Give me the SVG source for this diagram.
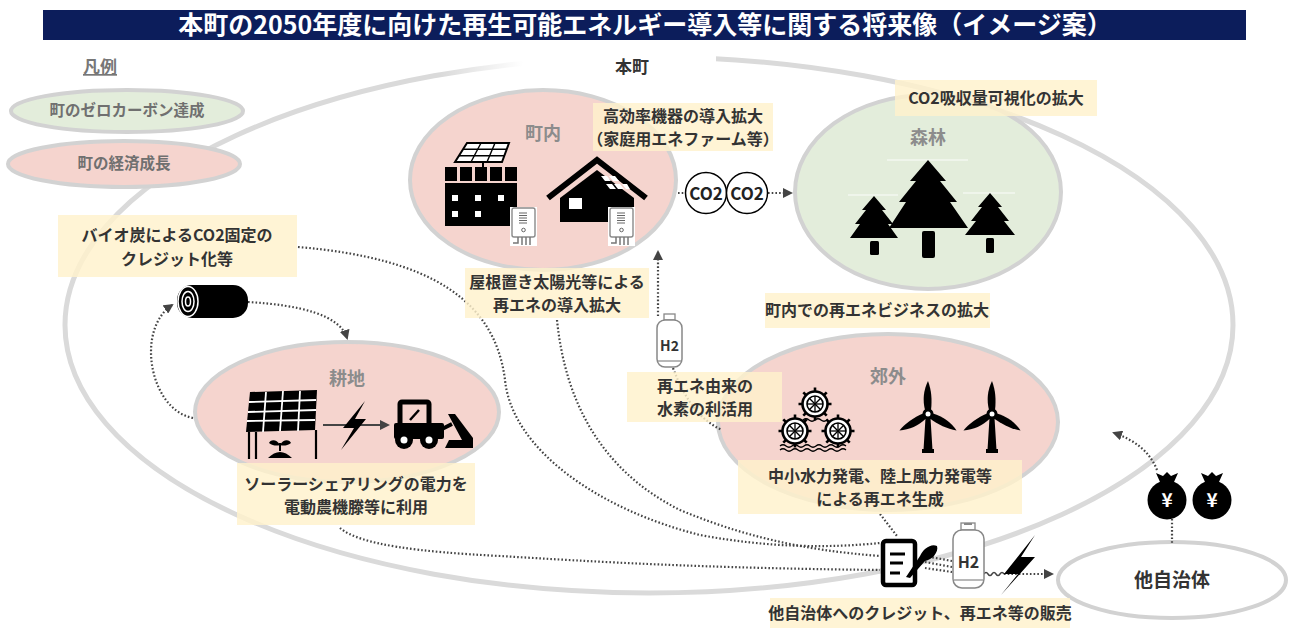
<svg xmlns="http://www.w3.org/2000/svg" width="1290" height="628" viewBox="0 0 1290 628">
<style>
  text { font-family: "Noto Sans CJK JP", "Noto Sans", sans-serif; font-weight: 700; }
  .title { fill: #fff; font-size: 25px; }
  .legend { fill: #707070; font-size: 15.5px; }
  .area { fill: #8c8c8c; font-size: 18px; }
  .note { fill: #333; font-size: 16px; }
  .dark { fill: #333; }
  .pink { fill: #f5d4ce; stroke: #d2d2d2; stroke-width: 4; }
  .green { fill: #e3eddb; stroke: #d2d2d2; stroke-width: 4; }
  .callout { fill: #fff2cc; fill-opacity: 0.82; }
  .dots { fill: none; stroke: #444; stroke-width: 2.2; stroke-dasharray: 1.6 2.1; }
  .ink { fill: #000; }
</style>
<defs>
  <marker id="ah" viewBox="0 0 10 10" refX="8" refY="5" markerUnits="userSpaceOnUse" markerWidth="10" markerHeight="10" orient="auto">
    <path d="M0,0 L10,5 L0,10 Z" fill="#444"/>
  </marker>
  <linearGradient id="fadeL" x1="0" y1="0" x2="1" y2="0">
    <stop offset="0" stop-color="#fff" stop-opacity="0"/>
    <stop offset="0.3" stop-color="#fff" stop-opacity="1"/>
  </linearGradient>
  <!-- wall-mounted fuel-cell unit -->
  <g id="boiler">
    <rect x="0" y="0" width="27" height="39" fill="#fff"/>
    <rect x="2" y="1" width="23" height="29" rx="2" fill="#fff" stroke="#8a8a8a" stroke-width="1.4"/>
    <g stroke="#666" stroke-width="1">
      <line x1="9" y1="6" x2="17" y2="6"/><line x1="9" y1="8.5" x2="17" y2="8.5"/>
      <line x1="9" y1="11" x2="17" y2="11"/><line x1="9" y1="13.5" x2="17" y2="13.5"/>
      <line x1="9" y1="16" x2="17" y2="16"/>
    </g>
    <circle cx="13.5" cy="23" r="1.8" fill="none" stroke="#666" stroke-width="1"/>
    <g fill="none" stroke="#777" stroke-width="1.5">
      <path d="M3,36 L8,36 L8,30"/>
      <line x1="12" y1="30" x2="12" y2="38"/><line x1="16" y1="30" x2="16" y2="38"/>
      <line x1="20" y1="30" x2="20" y2="38"/>
    </g>
  </g>
  <!-- water wheel -->
  <g id="wheel">
    <g stroke="#000" stroke-width="2.6">
      <line x1="0" y1="-16.5" x2="0" y2="16.5"/><line x1="-16.5" y1="0" x2="16.5" y2="0"/>
      <line x1="-11.7" y1="-11.7" x2="11.7" y2="11.7"/><line x1="-11.7" y1="11.7" x2="11.7" y2="-11.7"/>
    </g>
    <circle r="12.5" fill="#fff" stroke="#000" stroke-width="2.6"/>
    <circle r="8" fill="none" stroke="#000" stroke-width="1.6"/>
    <g stroke="#000" stroke-width="1.3">
      <line x1="0" y1="-8" x2="0" y2="8"/><line x1="-8" y1="0" x2="8" y2="0"/>
      <line x1="-5.7" y1="-5.7" x2="5.7" y2="5.7"/><line x1="-5.7" y1="5.7" x2="5.7" y2="-5.7"/>
    </g>
  </g>
  <!-- wind turbine, origin at hub -->
  <g id="turbine">
    <polygon points="-2.5,4 2.5,4 4.5,36 -4.5,36" fill="#000"/>
    <rect x="-6" y="35" width="12" height="4" fill="#000"/>
    <path id="blade" d="M-3,-4 C-5.5,-14 -4.5,-24 0,-33 C3.5,-24 4.2,-14 3,-4 Z" fill="#000"/>
    <use href="#blade" transform="rotate(120)"/>
    <use href="#blade" transform="rotate(240)"/>
    <circle r="5.5" fill="#000"/>
    <circle r="2.5" fill="#fff"/>
  </g>
  <!-- money bag, origin at bag centre -->
  <g id="bag">
    <path d="M-7,-15 L-11,-24 L-4,-21 L0,-25 L4,-21 L11,-24 L7,-15 Z" fill="#000"/>
    <circle cx="0" cy="3" r="19.5" fill="#000"/>
    <text x="0" y="10" text-anchor="middle" font-size="19" fill="#fff" font-family="Liberation Sans, sans-serif">¥</text>
  </g>
</defs>

<!-- heading -->
<g id="heading">
  <rect x="43" y="10" width="1203" height="30" fill="#0c1d5b"/>
  <text class="title" x="645" y="34" text-anchor="middle">本町の2050年度に向けた再生可能エネルギー導入等に関する将来像（イメージ案）</text>
</g>

<!-- whole town boundary -->
<g id="town">
  <ellipse cx="649" cy="325" rx="584" ry="268" fill="none" stroke="#dadada" stroke-width="5"/>
  <rect x="440" y="46" width="276" height="40" fill="url(#fadeL)"/>
  <text class="dark" x="632" y="73" text-anchor="middle" font-size="17">本町</text>
</g>

<!-- legend -->
<g id="legend">
  <text x="100" y="73" text-anchor="middle" text-decoration="underline" font-size="17" fill="#777" font-weight="400">凡例</text>
  <ellipse class="green" cx="127" cy="111" rx="116" ry="21"/>
  <text class="legend" x="127" y="116" text-anchor="middle">町のゼロカーボン達成</text>
  <ellipse class="pink" cx="124" cy="164" rx="116" ry="23"/>
  <text class="legend" x="124" y="169" text-anchor="middle">町の経済成長</text>
</g>

<!-- area: town centre -->
<g id="chonai">
  <ellipse class="pink" cx="543" cy="180" rx="133" ry="90"/>
  <text class="area" x="543" y="140" text-anchor="middle">町内</text>
  <!-- apartment with rooftop PV -->
  <polygon points="467,143 509,143 502,162 455,162" fill="#fff" stroke="#000" stroke-width="2"/>
  <g stroke="#000" stroke-width="1.4">
    <line x1="481" y1="143" x2="471" y2="162"/><line x1="495" y1="143" x2="487" y2="162"/>
    <line x1="463" y1="149.3" x2="506.7" y2="149.3"/><line x1="459" y1="155.7" x2="504.3" y2="155.7"/>
  </g>
  <line x1="483" y1="162" x2="483" y2="168" stroke="#000" stroke-width="2"/>
  <g class="ink">
    <rect x="445" y="167" width="12" height="14"/><rect x="460" y="167" width="12" height="14"/>
    <rect x="475" y="167" width="12" height="14"/><rect x="490" y="167" width="12" height="14"/>
    <rect x="505" y="167" width="12" height="14"/>
    <rect x="445" y="183" width="72" height="43"/>
  </g>
  <g fill="#fff">
    <rect x="452" y="195" width="6" height="6"/><rect x="475" y="195" width="6" height="6"/>
    <rect x="498" y="195" width="6" height="6"/><rect x="452" y="211" width="6" height="6"/>
    <rect x="475" y="211" width="6" height="6"/>
  </g>
  <use href="#boiler" x="510" y="207"/>
  <!-- house with PV -->
  <polyline points="548,198 597,160 646,198" fill="none" stroke="#000" stroke-width="6" stroke-linejoin="miter"/>
  <polygon points="560,222 560,198 597,170 634,198 634,222" fill="#000"/>
  <rect x="569" y="198" width="13" height="11" fill="#fff"/>
  <g fill="#fff">
    <polygon points="601,176 607,176 611,181 605,181"/>
    <polygon points="609,176 615,176 619,181 613,181"/>
    <polygon points="606,184 612,184 616,189 610,189"/>
    <polygon points="614,184 620,184 624,189 618,189"/>
    <polygon points="622,184 627,184 630,189 626,189"/>
  </g>
  <use href="#boiler" x="608" y="207"/>
</g>

<!-- area: forest -->
<g id="forest">
  <ellipse class="green" cx="928" cy="192" rx="133" ry="97"/>
  <text class="area" x="928" y="144" text-anchor="middle">森林</text>
  <g stroke="#fff" stroke-width="1" opacity="0.9">
    <line x1="887" y1="160" x2="968" y2="160"/>
    <line x1="848" y1="195" x2="898" y2="195"/>
    <line x1="963" y1="193" x2="1015" y2="193"/>
  </g>
  <g class="ink">
    <polygon points="928,160 946,181 940,181 957,202 950,202 968,228 889,228 906,202 899,202 916,181 910,181"/>
    <rect x="922" y="231" width="13" height="27" rx="2"/>
    <polygon points="874,196 886,210 882,210 893,224 888,224 898,238 850,238 860,224 855,224 866,210 862,210"/>
    <rect x="870" y="241" width="9" height="14" rx="1.5"/>
    <polygon points="990,193 1002,207 998,207 1009,221 1004,221 1015,235 965,235 976,221 971,221 982,207 978,207"/>
    <rect x="986" y="238" width="8" height="15" rx="1.5"/>
  </g>
</g>

<!-- area: farmland -->
<g id="farmland">
  <ellipse class="pink" cx="347" cy="412" rx="152" ry="70"/>
  <text class="area" x="347" y="385" text-anchor="middle">耕地</text>
  <!-- solar sharing -->
  <polygon points="250,392 317,390 315,430 246,432" fill="#000"/>
  <g stroke="#fff" stroke-width="1.8">
    <line x1="266" y1="392" x2="263" y2="432"/><line x1="283" y1="391" x2="280" y2="431"/>
    <line x1="300" y1="391" x2="298" y2="431"/>
    <line x1="249" y1="402" x2="316" y2="400"/><line x1="248" y1="412" x2="316" y2="410"/>
    <line x1="247" y1="421" x2="315" y2="420"/>
  </g>
  <g stroke="#000" stroke-width="2.2">
    <line x1="249" y1="432" x2="249" y2="459"/><line x1="256" y1="432" x2="256" y2="459"/>
    <line x1="316" y1="430" x2="316" y2="459"/>
  </g>
  <path d="M268,458 Q280,446 292,458 Z" fill="#000"/>
  <line x1="280" y1="451" x2="280" y2="443" stroke="#000" stroke-width="2"/>
  <path d="M280,445 C276,438 270,440 269,443 C273,446 277,446 280,445 Z M280,445 C284,438 290,440 291,443 C287,446 283,446 280,445 Z" fill="#000"/>
  <line x1="323" y1="425" x2="388" y2="425" stroke="#444" stroke-width="1.8" marker-end="url(#ah)"/>
  <polygon points="365,401 343,428 354,428 341,450 366,419 355,419" fill="#000"/>
  <!-- electric loader -->
  <rect x="400" y="402" width="29" height="24" fill="none" stroke="#000" stroke-width="5" rx="2"/>
  <line x1="410" y1="420" x2="419" y2="410" stroke="#000" stroke-width="2.5"/>
  <rect x="394" y="423" width="50" height="16" fill="#000" rx="2"/>
  <circle cx="404" cy="440" r="9" fill="#000"/><circle cx="404" cy="440" r="3.5" fill="#fff"/>
  <circle cx="429" cy="440" r="9" fill="#000"/><circle cx="429" cy="440" r="3.5" fill="#fff"/>
  <line x1="440" y1="430" x2="452" y2="424" stroke="#000" stroke-width="4"/>
  <polygon points="448,414 455,414 473,438 473,448 445,448 449,440 462,440" fill="#000"/>
</g>

<!-- area: suburbs -->
<g id="suburbs">
  <ellipse class="pink" cx="888" cy="422" rx="170" ry="88"/>
  <text class="area" x="888" y="383" text-anchor="middle">郊外</text>
  <use href="#wheel" x="815" y="404"/>
  <use href="#wheel" x="795" y="431"/>
  <use href="#wheel" x="838" y="431"/>
  <g fill="none" stroke="#000" stroke-width="1.3">
    <path d="M780,446 q3,-2.5 6,0 t6,0 t6,0 t6,0 t6,0 t6,0 t6,0 t6,0 t6,0 t6,0 t6,0"/>
    <path d="M780,450 q3,-2.5 6,0 t6,0 t6,0 t6,0 t6,0 t6,0 t6,0 t6,0 t6,0 t6,0 t6,0"/>
    <path d="M803,420 q3,-2.5 6,0 t6,0 t6,0 t6,0"/>
  </g>
  <use href="#turbine" x="928" y="414"/>
  <use href="#turbine" x="992" y="414"/>
</g>

<!-- other municipality -->
<g id="other">
  <ellipse cx="1172" cy="580" rx="114" ry="38" fill="#fff" stroke="#d2d2d2" stroke-width="4"/>
  <text class="dark" x="1172" y="587" text-anchor="middle" font-size="19">他自治体</text>
  <use href="#bag" x="1167" y="497"/>
  <use href="#bag" x="1212" y="497"/>
</g>

<!-- connectors -->
<g id="connectors">
  <path class="dots" d="M298,247 C430,258 495,300 505,380 C512,450 600,510 700,535 C770,548 830,548 880,543"/>
  <path class="dots" d="M557,320 C565,400 600,470 680,510 C740,535 800,550 880,556"/>
  <path class="dots" d="M340,528 C360,545 420,552 500,556 C600,562 700,568 880,570"/>
  <path class="dots" d="M880,514 L897,536"/>
  <path class="dots" d="M658,316 L658,252" marker-end="url(#ah)"/>
  <path class="dots" d="M673,368 C685,400 700,420 722,430"/>
  <path class="dots" d="M678,193 L685,193"/>
  <path class="dots" d="M768,193 L791,193" marker-end="url(#ah)"/>
  <path class="dots" d="M248,302 C300,305 340,315 347,338" marker-end="url(#ah)"/>
  <path class="dots" d="M193,418 C150,410 135,330 172,305" marker-end="url(#ah)"/>
  <path class="dots" d="M1157,470 C1150,452 1135,440 1114,433" marker-end="url(#ah)"/>
  <path class="dots" d="M1172,519 L1172,543"/>
  <path class="dots" d="M925,556 L952,561 M925,562 L952,567 M925,568 L952,572"/>
  <path d="M984,574 q2,-3 4,0 t4,0 t4,0 t4,0 t4,0" fill="none" stroke="#444" stroke-width="1.5"/>
  <path class="dots" d="M1004,574 L1052,574" marker-end="url(#ah)"/>
</g>

<!-- CO2 transfer and hydrogen -->
<g id="co2">
  <circle cx="706" cy="193" r="20.5" fill="#fff" stroke="#000" stroke-width="1.5"/>
  <text x="706" y="199.5" text-anchor="middle" font-size="17" fill="#222">CO2</text>
  <circle cx="747" cy="193" r="20.5" fill="#fff" stroke="#000" stroke-width="1.5"/>
  <text x="747" y="199.5" text-anchor="middle" font-size="17" fill="#222">CO2</text>
</g>
<g id="h2-local">
  <rect x="664" y="314" width="11" height="6" fill="#fff" stroke="#888" stroke-width="1.3"/>
  <rect x="657" y="320" width="25" height="47" rx="8" fill="#fff" stroke="#888" stroke-width="1.5"/>
  <line x1="658" y1="361" x2="681" y2="361" stroke="#888" stroke-width="1.2"/>
  <text class="dark" x="669.5" y="351" text-anchor="middle" font-size="14">H2</text>
</g>

<!-- biochar -->
<g id="biochar">
  <rect x="177" y="285" width="71" height="33" rx="15" fill="#000"/>
  <ellipse cx="188" cy="301.5" rx="10" ry="15" fill="#000" stroke="#fff" stroke-width="1.5"/>
  <ellipse cx="188" cy="301.5" rx="6" ry="10" fill="none" stroke="#fff" stroke-width="1.5"/>
  <ellipse cx="188" cy="301.5" rx="2.5" ry="4.5" fill="none" stroke="#fff" stroke-width="1.5"/>
</g>

<!-- sales bundle -->
<g id="sales">
  <rect x="883" y="541" width="32" height="44" rx="3" fill="#fff" stroke="#000" stroke-width="4.5"/>
  <g stroke="#000" stroke-width="3">
    <line x1="890" y1="554" x2="905" y2="554"/><line x1="890" y1="563" x2="903" y2="563"/>
    <line x1="890" y1="573" x2="900" y2="573"/>
  </g>
  <path d="M906,577 L920,556 C923,549 931,543 937,546 C939,552 932,560 925,561 L910,578 Z" fill="#000"/>
  <rect x="961" y="523" width="14" height="7" fill="#fff" stroke="#888" stroke-width="1.3"/>
  <line x1="964" y1="524" x2="972" y2="524" stroke="#888" stroke-width="2"/>
  <rect x="953" y="530" width="31" height="58" rx="9" fill="#fff" stroke="#888" stroke-width="1.5"/>
  <line x1="954" y1="580" x2="983" y2="580" stroke="#888" stroke-width="1.2"/>
  <text class="dark" x="968.5" y="568" text-anchor="middle" font-size="16">H2</text>
  <polygon points="1035,535 1004,574 1018,574 1001,595 1035,557 1021,557" fill="#000"/>
</g>

<!-- callouts -->
<g id="note-efficiency">
  <rect class="callout" x="593" y="103" width="180" height="48"/>
  <text class="note" x="683" y="122" text-anchor="middle">高効率機器の導入拡大</text>
  <text class="note" x="683" y="145" text-anchor="middle">（家庭用エネファーム等）</text>
</g>
<g id="note-absorption">
  <rect class="callout" x="895" y="80" width="202" height="36"/>
  <text class="note" x="996" y="104" text-anchor="middle">CO2吸収量可視化の拡大</text>
</g>
<g id="note-business">
  <rect class="callout" x="765" y="293" width="225" height="35"/>
  <text class="note" x="877" y="316" text-anchor="middle">町内での再エネビジネスの拡大</text>
</g>
<g id="note-generation">
  <rect class="callout" x="738" y="460" width="284" height="54"/>
  <text class="note" x="880" y="482" text-anchor="middle">中小水力発電、陸上風力発電等</text>
  <text class="note" x="880" y="505" text-anchor="middle">による再エネ生成</text>
</g>
<g id="note-hydrogen">
  <rect class="callout" x="627" y="372" width="155" height="50"/>
  <text class="note" x="705" y="392" text-anchor="middle">再エネ由来の</text>
  <text class="note" x="705" y="415" text-anchor="middle">水素の利活用</text>
</g>
<g id="note-rooftop">
  <rect class="callout" x="465" y="268" width="184" height="50"/>
  <text class="note" x="557" y="288" text-anchor="middle">屋根置き太陽光等による</text>
  <text class="note" x="557" y="311" text-anchor="middle">再エネの導入拡大</text>
</g>
<g id="note-sharing">
  <rect class="callout" x="237" y="463" width="238" height="62"/>
  <text class="note" x="356" y="490" text-anchor="middle">ソーラーシェアリングの電力を</text>
  <text class="note" x="356" y="513" text-anchor="middle">電動農機滕等に利用</text>
</g>
<g id="note-biochar">
  <rect class="callout" x="58" y="215" width="239" height="62"/>
  <text class="note" x="177" y="241" text-anchor="middle">バイオ炭によるCO2固定の</text>
  <text class="note" x="177" y="265" text-anchor="middle">クレジット化等</text>
</g>
<g id="note-sales">
  <rect class="callout" x="770" y="598" width="300" height="30"/>
  <text class="note" x="920" y="619" text-anchor="middle" font-size="15.5">他自治体へのクレジット、再エネ等の販売</text>
</g>
</svg>
